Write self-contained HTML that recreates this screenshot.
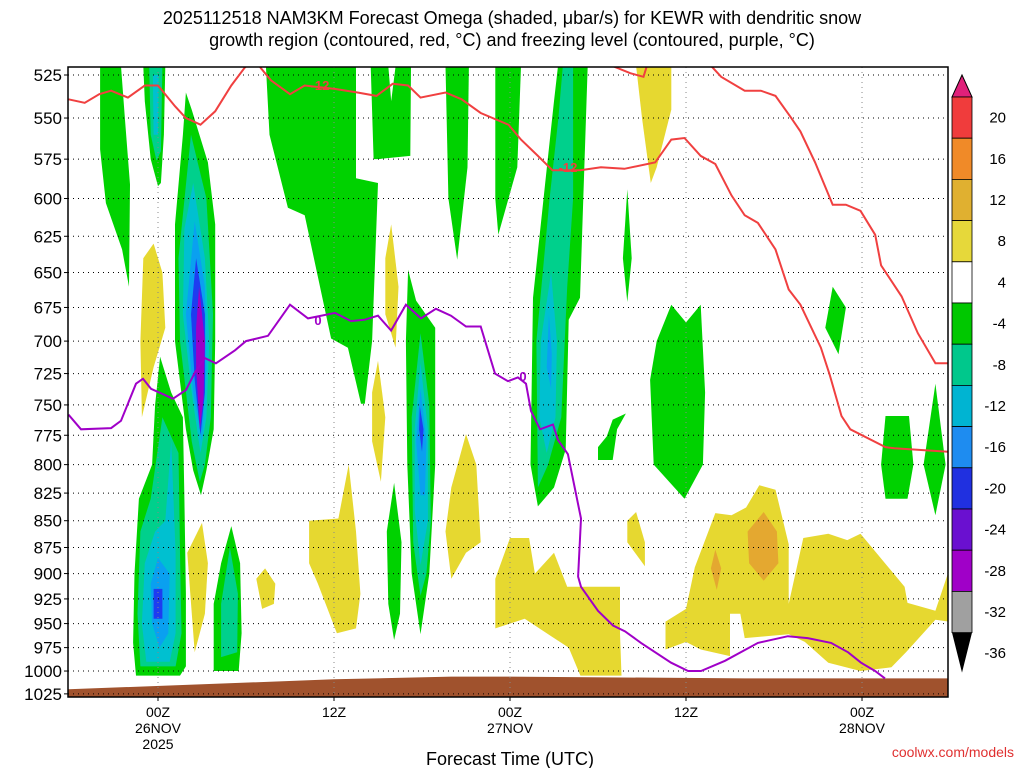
<!DOCTYPE html>
<html><head><meta charset="utf-8"><style>
body{margin:0;background:#fff;}
svg{display:block;font-family:"Liberation Sans","DejaVu Sans",sans-serif;}
</style></head><body>
<svg id="c" width="1024" height="768" xmlns="http://www.w3.org/2000/svg">
<text x="512" y="24" text-anchor="middle" font-size="18">2025112518 NAM3KM Forecast Omega (shaded, μbar/s) for KEWR with dendritic snow</text>
<text x="512" y="46" text-anchor="middle" font-size="18">growth region (contoured, red, °C) and freezing level (contoured, purple, °C)</text>
<defs><clipPath id="pc"><rect x="68" y="67" width="880" height="630"/></clipPath></defs>
<g id="shades"></g>
<g id="grid"></g>
<g id="lines"></g>
<g id="axes"></g>
<g id="cbar"></g>
<text x="510" y="765" text-anchor="middle" font-size="18">Forecast Time (UTC)</text>
<text x="1014" y="757" text-anchor="end" font-size="14" fill="#e03030">coolwx.com/models</text>
</svg>
<script>
const ns="http://www.w3.org/2000/svg";
const L=68,R=948,T=67,B=697;
function X(h){return 158+h*14.667;}
function Y(p){return 75+925*Math.log(p/525);}
const pTicks=[525,550,575,600,625,650,675,700,725,750,775,800,825,850,875,900,925,950,975,1000,1025];
const hTicks=[0,12,24,36,48];
const hLabels=[["00Z","26NOV","2025"],["12Z"],["00Z","27NOV"],["12Z"],["00Z","28NOV"]];
const levColors={g:"#00d200",t:"#00d08c",c:"#00c0d0",b:"#0aa0f0",d:"#1e3cf0",v:"#9a00c8",y:"#e6d830",o:"#e4a830"};
const greenBlobs=[
[[-3.95,520],[-2.52,520],[-2.25,551],[-1.91,591],[-1.98,660],[-2.45,634],[-3.55,603],[-3.95,569]],
[[-1.0,520],[0.5,520],[0.4,560],[0.2,590],[0,592],[-0.5,575],[-0.9,540]],
[[1.9,535],[2.3,545],[3.4,577],[3.9,617],[3.9,700],[3.8,770],[3.3,805],[2.93,827],[2.4,805],[1.9,770],[1.16,700],[1.16,617],[1.7,560]],
[[0.14,712],[0.9,740],[1.7,760],[1.8,830],[1.9,920],[1.9,995],[1.5,1005],[-1.5,1005],[-1.7,970],[-1.6,900],[-1.3,830],[-0.4,800],[-0.2,750]],
[[5.0,855],[5.6,890],[5.7,960],[5.5,1000],[3.8,1000],[3.8,930],[4.3,890]],
[[7.36,520],[13.5,520],[13.5,587],[15.0,590],[14.6,700],[14.1,749],[13.84,749],[12.95,705],[11.8,698],[10.0,611],[8.86,606],[7.6,560]],
[[14.5,520],[15.7,520],[15.9,540],[16.2,520],[17.25,520],[17.2,573],[15.0,575],[14.7,575]],
[[19.6,520],[21.2,520],[21.1,580],[20.4,641],[19.8,600]],
[[23.0,520],[24.75,520],[24.5,580],[23.2,624],[23.0,600]],
[[17.05,648],[17.6,670],[18.9,690],[18.9,800],[18.5,900],[17.9,961],[17.3,900],[17.0,800],[16.9,700]],
[[16.1,816],[16.6,870],[16.5,940],[16.1,967],[15.7,930],[15.6,860]],
[[27.27,520],[29.3,520],[29.0,600],[28.77,668],[28.0,684],[27.8,787],[27.0,820],[25.9,837],[25.4,800],[25.57,668],[26.4,590],[27.0,540]],
[[32.0,594],[32.3,640],[32.0,671],[31.7,640]],
[[30.6,776],[31.0,762],[31.9,757],[31.3,770],[31.0,796],[30.0,796],[30.0,785]],
[[35.0,673],[36.0,686],[37.0,673],[37.3,740],[37.15,800],[35.9,830],[33.8,800],[33.55,730],[34.0,700]],
[[46.0,660],[46.9,675],[46.4,710],[45.5,690]],
[[49.6,759],[51.2,759],[51.5,800],[51.1,830],[49.6,830],[49.3,800]],
[[53.0,733],[53.7,800],[53.0,845],[52.2,800]]];
const innerBlobs=[
["t",[[-0.6,520],[0.3,520],[0.2,570],[-0.1,576],[-0.5,560]]],
["c",[[-0.35,525],[0.05,525],[0,560],[-0.3,560]]],
["t",[[2.25,560],[3.3,600],[3.75,680],[3.6,760],[3.2,800],[2.85,815],[2.3,780],[1.5,700],[1.4,640]]],
["c",[[2.4,590],[3.2,640],[3.5,700],[3.3,760],[2.9,790],[2.3,740],[1.7,680],[1.8,620]]],
["b",[[2.5,615],[3.2,660],[3.3,720],[3.0,780],[2.4,740],[1.9,680]]],
["d",[[2.6,640],[3.2,680],[3.2,740],[2.9,775],[2.5,730],[2.25,680]]],
["v",[[2.8,660],[3.2,700],[3.1,745],[2.85,770],[2.6,720],[2.6,690]]],
["t",[[0.3,760],[1.4,790],[1.5,880],[1.6,960],[1.2,995],[-1.2,995],[-1.4,940],[-1.2,860],[-0.5,830]]],
["c",[[0.9,780],[1.2,880],[1.2,960],[0.8,990],[-0.8,990],[-1.1,950],[-0.9,890],[-0.2,860],[0.5,850]]],
["b",[[0.0,885],[0.8,900],[0.7,960],[0.1,975],[-0.4,950],[-0.5,910]]],
["d",[[-0.3,915],[0.3,915],[0.3,945],[-0.3,945]]],
["t",[[4.9,875],[5.45,920],[5.4,980],[4.3,985],[4.3,930]]],
["t",[[17.9,694],[18.5,750],[18.6,850],[18.3,900],[17.9,922],[17.4,870],[17.3,760]]],
["c",[[17.9,717],[18.4,770],[18.4,850],[17.9,892],[17.5,840],[17.5,770]]],
["b",[[17.9,737],[18.3,780],[18.2,827],[17.9,827],[17.6,780]]],
["d",[[17.85,751],[18.1,770],[18.0,789],[17.8,770]]],
["t",[[27.6,520],[28.3,520],[28.3,600],[27.9,660],[27.5,760],[26.6,800],[25.9,820],[25.8,700],[26.7,600],[27.3,550]]],
["c",[[26.8,650],[27.2,700],[27.1,760],[26.5,790],[26.0,760],[26.1,700]]],
["b",[[26.65,680],[26.85,710],[26.8,737],[26.5,720]]]];
const yellowBlobs=[
[[-0.3,630],[0.3,650],[0.5,690],[-0.3,720],[-1.1,760],[-1.2,700],[-1.0,640]],
[[2.0,880],[3.0,852],[3.4,890],[3.2,940],[2.5,980],[2.2,920]],
[[6.7,905],[7.3,895],[8.0,910],[7.9,930],[7.1,935]],
[[10.3,850],[12.3,848],[13.0,800],[13.5,860],[13.8,920],[13.5,955],[12.2,960],[10.9,910],[10.3,890]],
[[15.0,715],[15.5,760],[15.2,815],[14.6,780],[14.6,740]],
[[15.9,617],[16.4,660],[16.2,705],[15.5,680],[15.5,640]],
[[21.0,774],[21.7,800],[22.0,870],[21.0,880],[20.0,905],[19.6,860],[20.0,820]],
[[23.0,905],[24.0,866],[25.3,866],[25.7,900],[27.0,880],[27.9,913],[31.5,913],[31.5,960],[31.6,1005],[28.8,1005],[28.0,975],[26.5,960],[25.0,945],[23.0,955]],
[[32.6,842],[33.2,870],[33.2,893],[32.0,870],[32.0,850]],
[[32.6,520],[35.0,520],[35.0,545],[34.0,580],[33.6,590],[33.0,550]],
[[34.6,948],[36.0,935],[36.6,894],[38.0,843],[39.1,845],[40.1,838],[41.0,818],[42.1,822],[43.0,872],[43.0,930],[44.0,866],[45.7,862],[47.0,868],[47.9,862],[50.9,913],[51.1,929],[53.0,937],[53.9,898],[53.9,948],[53.0,946],[51.0,980],[50.0,996],[47.9,1000],[45.7,991],[44.1,969],[43.0,961],[40.0,965],[39.7,940],[39.0,940],[39.0,984],[37.0,977],[36.0,969],[34.6,977]]];
const orangeBlobs=[
[[41.3,842],[42.2,860],[42.3,890],[41.3,907],[40.3,890],[40.2,860]],
[[38.0,877],[38.4,895],[38.1,916],[37.7,895]]];
const redLine1=[[-6.1,539],[-5.0,541],[-4.0,536],[-3.2,534],[-2.05,538],[-0.9,531],[0,531],[1.16,543],[1.9,550],[2.9,554],[3.9,546],[5.0,531],[5.9,521],[6.3,518]];
const redLine2=[[6.8,518],[7.0,521],[7.7,528],[9.0,536],[10.0,531],[12.1,533],[13.6,535],[14.9,537],[16.0,530],[17.05,531],[17.9,538],[19.6,535],[20.7,539],[22.0,547],[23.9,554],[24.75,563],[25.9,573],[26.9,582],[28.8,582],[30.2,580],[31.8,581],[33.9,577],[35.0,563],[35.9,562],[37.0,573],[38.0,578],[39.1,598],[40.0,611],[40.9,616],[42.1,634],[43.0,662],[43.8,673],[45.2,705],[45.8,726],[46.6,759],[47.2,770],[49.6,785],[50.2,786],[53.9,789]];
const redLine3=[[37.5,518],[38.4,526],[40.0,534],[41.1,534],[42.1,537],[43.1,549],[43.8,558],[44.8,577],[46.0,604],[46.9,604],[47.9,608],[48.9,624],[49.3,645],[50.7,667],[51.8,694],[53.0,717],[53.9,717]];
const redLine4=[[30.0,518],[31.0,520],[32.2,524],[33.1,526],[33.4,518]];
const purpleLine=[[-6.1,758],[-5.25,770],[-3.2,769],[-2.52,763],[-1.5,733],[-1.02,729],[-0.48,737],[1.02,745],[1.91,738],[2.52,724],[3.2,713],[3.95,717],[5.25,707],[6.0,700],[7.5,696],[9.0,673],[10.23,683],[12.07,679],[13.16,685],[14.1,684],[15.0,681],[15.89,692],[16.9,673],[17.93,683],[18.95,676],[19.98,681],[21.0,689],[22.0,689],[22.98,725],[23.86,731],[24.54,728],[25.09,733],[25.43,755],[26.05,770],[26.93,766],[27.27,779],[27.95,791],[28.84,848],[28.64,903],[28.84,913],[30.0,937],[31.02,952],[31.84,958],[32.93,970],[34.98,991],[36.14,1000],[37.02,1000],[38.66,989],[40.9,970],[42.95,963],[44.3,965],[45.89,970],[47.05,980],[47.93,991],[48.89,1000],[49.57,1008]];
const groundP=[[-6.1,1020],[12,1009],[20,1006],[24,1006],[40,1008],[53.9,1008]];
const cbLevels=[20,16,12,8,4,-4,-8,-12,-16,-20,-24,-28,-32,-36];
const cbColors=["#f03c3c","#f08a28","#e0b030","#e6d83a","#ffffff","#00c800","#00c88c","#00b4d2","#1e8cf0","#2030e0","#6a10d0","#a000c8","#a0a0a0"];

function el(tag,attrs,parent){const e=document.createElementNS(ns,tag);for(const k in attrs)e.setAttribute(k,attrs[k]);parent.appendChild(e);return e;}
function pts(a){return a.map(d=>X(d[0]).toFixed(1)+","+Y(d[1]).toFixed(1)).join(" ");}
const S=document.getElementById("shades");
const sg=el("g",{"clip-path":"url(#pc)"},S);
greenBlobs.forEach(b=>{const e=el("polygon",{points:pts(b),fill:levColors.g},sg);

});
innerBlobs.forEach(b=>{const e=el("polygon",{points:pts(b[1]),fill:levColors[b[0]]},sg);

});
yellowBlobs.forEach(b=>{const e=el("polygon",{points:pts(b),fill:levColors.y},sg);

});
orangeBlobs.forEach(b=>{const e=el("polygon",{points:pts(b),fill:levColors.o},sg);

});
const gp=groundP.concat([[53.9,1040],[-6.1,1040]]);
const ge=el("polygon",{points:pts(gp),fill:"#a0522d"},sg);



const G=document.getElementById("grid");
pTicks.forEach(p=>{el("line",{x1:L,x2:R,y1:Y(p),y2:Y(p),stroke:"#000","stroke-width":1,"stroke-dasharray":"1,4"},G);});
hTicks.forEach(h=>{el("line",{x1:X(h),x2:X(h),y1:T,y2:B,stroke:"#888","stroke-width":1,"stroke-dasharray":"1,4"},G);});

const Ln=document.getElementById("lines");
const lg=el("g",{"clip-path":"url(#pc)"},Ln);
[redLine1,redLine2,redLine3,redLine4].forEach(l=>{const e=el("polyline",{points:pts(l),fill:"none",stroke:"#f04040","stroke-width":2},lg);

});
const pl=el("polyline",{points:pts(purpleLine),fill:"none",stroke:"#a000c8","stroke-width":2},lg);


[["-12",320,90,"#f04040"],["-12",568,172,"#f04040"],["0",318,325,"#a000c8"],["0",523,381,"#a000c8"]].forEach(t=>{
const bg=el("rect",{x:t[1]-(t[0].length*4),y:t[2]-10,width:t[0].length*8,height:12,fill:"#fff","fill-opacity":0},lg);
const e=el("text",{x:t[1],y:t[2],fill:t[3],"font-size":13,"font-weight":"bold","text-anchor":"middle"},lg);e.textContent=t[0];

});

const A=document.getElementById("axes");
el("rect",{x:L,y:T,width:R-L,height:B-T,fill:"none",stroke:"#000","stroke-width":1.5},A);
pTicks.forEach(p=>{el("line",{x1:L-4,x2:L,y1:Y(p),y2:Y(p),stroke:"#000"},A);
const t=el("text",{x:L-6,y:Y(p)+6,"text-anchor":"end","font-size":17},A);t.textContent=p;

});
hTicks.forEach((h,i)=>{el("line",{x1:X(h),x2:X(h),y1:B,y2:B+4,stroke:"#000"},A);
hLabels[i].forEach((s,j)=>{const t=el("text",{x:X(h),y:717+j*16,"text-anchor":"middle","font-size":14},A);t.textContent=s;

});});

const C=document.getElementById("cbar");
const cx=952,cw=20,cbTop=97,step=41.2;
el("polygon",{points:`${cx},${cbTop} ${cx+cw},${cbTop} ${cx+cw/2},${cbTop-22}`,fill:"#e0207a",stroke:"#000"},C);
cbColors.forEach((c,i)=>{const e=el("rect",{x:cx,y:cbTop+i*step,width:cw,height:step,fill:c,stroke:"#000","stroke-width":0.8},C);

});
const cbBot=cbTop+cbColors.length*step;
el("polygon",{points:`${cx},${cbBot} ${cx+cw},${cbBot} ${cx+cw/2},${cbBot+40}`,fill:"#000"},C);
cbLevels.forEach((v,i)=>{
const t=el("text",{x:cx+cw+34,y:(cbTop+i*step+20.6+5).toFixed(1),"text-anchor":"end","font-size":15},C);
t.textContent=v;

});
</script>
</body></html>
